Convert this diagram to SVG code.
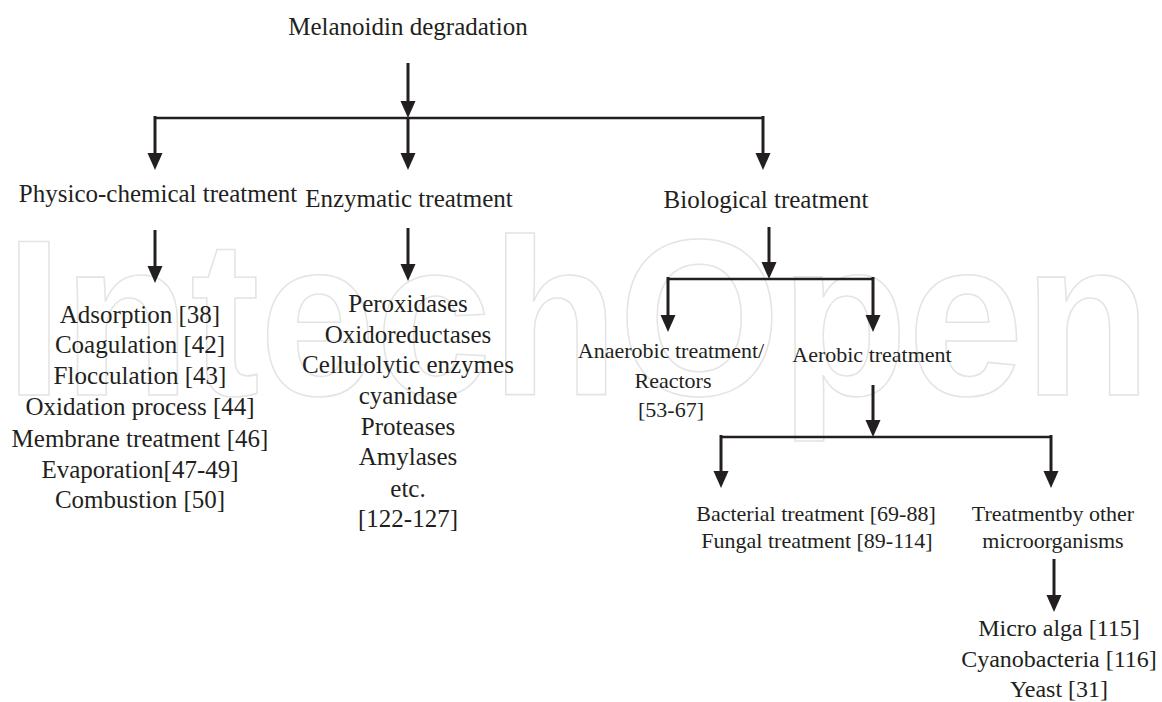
<svg xmlns="http://www.w3.org/2000/svg" width="1162" height="702" viewBox="0 0 1162 702">
<style>
.t{font-family:"Liberation Serif","Times New Roman",serif;fill:#231f20;text-anchor:middle}
.f25{font-size:25px}.f24{font-size:24px}.f22{font-size:22px}
.wm{font-family:"Liberation Sans",Arial,sans-serif;font-weight:bold;font-size:222px;fill:none;stroke:#e4e4e4;stroke-width:1.6}
.st{stroke:#231f20;stroke-width:3;fill:none}
.hl{stroke:#231f20;stroke-width:2.5;fill:none}
</style>
<defs>
<marker id="ah" markerUnits="userSpaceOnUse" markerWidth="20" markerHeight="18" viewBox="0 -9 20 18" refX="7" refY="0" orient="auto">
<path d="M0,-7.5 L17,0 L0,7.5 Z" fill="#231f20"/>
</marker>
</defs>
<rect width="1162" height="702" fill="#ffffff"/>
<text class="wm" x="5" y="395" textLength="1146" lengthAdjust="spacingAndGlyphs">IntechOpen</text>
<g id="connectors">
<line class="st" x1="408" y1="63" x2="408" y2="108" marker-end="url(#ah)"/>
<line class="hl" x1="155" y1="118" x2="763" y2="118"/>
<line class="st" x1="155" y1="116" x2="155" y2="160" marker-end="url(#ah)"/>
<line class="st" x1="408" y1="118" x2="408" y2="160" marker-end="url(#ah)"/>
<line class="st" x1="763" y1="116" x2="763" y2="160" marker-end="url(#ah)"/>
<line class="st" x1="155" y1="230" x2="155" y2="273" marker-end="url(#ah)"/>
<line class="st" x1="408" y1="228" x2="408" y2="271" marker-end="url(#ah)"/>
<line class="st" x1="769" y1="227" x2="769" y2="269" marker-end="url(#ah)"/>
<line class="hl" x1="668" y1="279" x2="873" y2="279"/>
<line class="st" x1="668" y1="277" x2="668" y2="322" marker-end="url(#ah)"/>
<line class="st" x1="873" y1="277" x2="873" y2="322" marker-end="url(#ah)"/>
<line class="st" x1="873" y1="385" x2="873" y2="427" marker-end="url(#ah)"/>
<line class="hl" x1="721" y1="437" x2="1051" y2="437"/>
<line class="st" x1="721" y1="435" x2="721" y2="478" marker-end="url(#ah)"/>
<line class="st" x1="1051" y1="435" x2="1051" y2="478" marker-end="url(#ah)"/>
<line class="st" x1="1054" y1="559" x2="1054" y2="602" marker-end="url(#ah)"/>
</g>
<g id="root"><text class="t f25" x="408" y="35">Melanoidin degradation</text></g>
<g id="physico"><text class="t f25" x="158" y="202">Physico-chemical treatment</text></g>
<g id="enzymatic"><text class="t f25" x="409" y="207">Enzymatic treatment</text></g>
<g id="biological"><text class="t f25" x="766" y="208">Biological treatment</text></g>
<g id="physico-list" class="t f25">
<text x="140" y="323">Adsorption [38]</text>
<text x="140" y="353">Coagulation [42]</text>
<text x="140" y="384">Flocculation [43]</text>
<text x="140" y="415">Oxidation process [44]</text>
<text x="140" y="447">Membrane treatment [46]</text>
<text x="140" y="478">Evaporation[47-49]</text>
<text x="140" y="508">Combustion [50]</text>
</g>
<g id="enzyme-list" class="t f25">
<text x="408" y="312">Peroxidases</text>
<text x="408" y="343">Oxidoreductases</text>
<text x="408" y="373">Cellulolytic enzymes</text>
<text x="408" y="404">cyanidase</text>
<text x="408" y="435">Proteases</text>
<text x="408" y="465">Amylases</text>
<text x="408" y="497">etc.</text>
<text x="408" y="527">[122-127]</text>
</g>
<g id="anaerobic" class="t f22">
<text x="671" y="358">Anaerobic treatment/</text>
<text x="673" y="388">Reactors</text>
<text x="671" y="417">[53-67]</text>
</g>
<g id="aerobic"><text class="t f22" x="872" y="362">Aerobic treatment</text></g>
<g id="bacterial-fungal" class="t f22">
<text x="816" y="521">Bacterial treatment [69-88]</text>
<text x="817" y="548">Fungal treatment [89-114]</text>
</g>
<g id="other-micro" class="t f22">
<text x="1053" y="521">Treatmentby other</text>
<text x="1053" y="548">microorganisms</text>
</g>
<g id="micro-list" class="t f24">
<text x="1059" y="636">Micro alga [115]</text>
<text x="1059" y="667">Cyanobacteria [116]</text>
<text x="1059" y="697">Yeast [31]</text>
</g>
</svg>
